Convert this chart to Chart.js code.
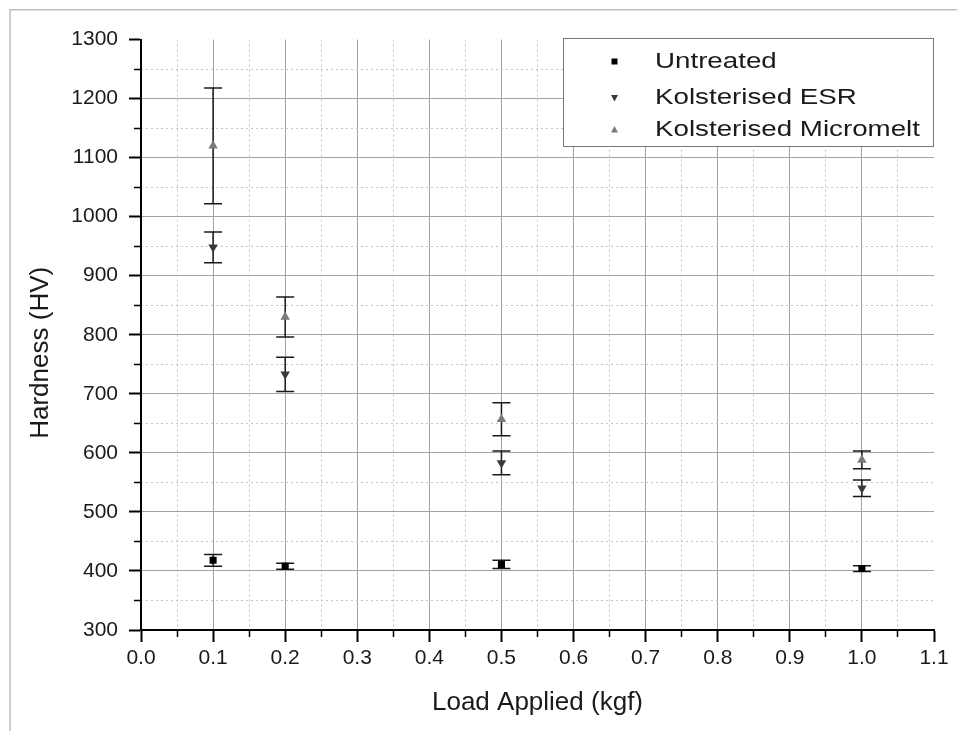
<!DOCTYPE html>
<html>
<head>
<meta charset="utf-8">
<script src="https://cdn.jsdelivr.net/npm/chart.js@4.4.1/dist/chart.umd.min.js"></script>
<style>
  html, body { margin: 0; padding: 0; background: #fff; }
  #wrap { width: 957px; height: 731px; position: relative; }
</style>
</head>
<body>
<div id="wrap"><canvas id="myChart"></canvas></div>
<script>
// load applied (kgf)
const loads = [0.1, 0.2, 0.5, 1.0];

// hardness values (HV) and error bar half-widths
const untreated = [418, 408, 411, 404];
const untreatedErr = [10, 5, 7, 5];
const esr = [948, 733, 583, 540];
const esrErr = [26, 29, 20, 14];
const micromelt = [1120, 830, 657, 588];
const micromeltErr = [98, 34, 28, 15];

const seriesNames = ['Untreated', 'Kolsterised ESR', 'Kolsterised Micromelt'];

const xRange = [0, 1.1];
const yRange = [300, 1300];

const FONT = 'Liberation Sans, Arial, Helvetica, sans-serif';

function pts(values) {
	return loads.map((x, i) => ({x: x, y: values[i]}));
}

function onStep(v, step) {
	return Math.abs(v / step - Math.round(v / step)) < 1e-6;
}

// light outer frame of the picture
const frame = {
	id: 'frame',
	beforeDraw(chart) {
		const ctx = chart.ctx;
		ctx.save();
		ctx.fillStyle = '#fff';
		ctx.fillRect(0, 0, chart.width, chart.height);
		ctx.strokeStyle = '#bdbdbd';
		ctx.lineWidth = 1.5;
		ctx.beginPath();
		ctx.moveTo(10, chart.height);
		ctx.lineTo(10, 9.75);
		ctx.lineTo(chart.width, 9.75);
		ctx.stroke();
		ctx.restore();
	}
};

// vertical error bars with caps
const errorBars = {
	id: 'errorBars',
	beforeDatasetsDraw(chart) {
		const ctx = chart.ctx;
		const xs = chart.scales.x, ys = chart.scales.y;
		ctx.save();
		ctx.strokeStyle = '#1a1a1a';
		ctx.lineWidth = 1.5;
		chart.data.datasets.forEach(ds => {
			ds.data.forEach((p, i) => {
				const px = xs.getPixelForValue(p.x);
				const top = ys.getPixelForValue(p.y + ds.errors[i]);
				const bot = ys.getPixelForValue(p.y - ds.errors[i]);
				ctx.beginPath();
				ctx.moveTo(px, top); ctx.lineTo(px, bot);
				ctx.moveTo(px - 9, top); ctx.lineTo(px + 9, top);
				ctx.moveTo(px - 9, bot); ctx.lineTo(px + 9, bot);
				ctx.stroke();
			});
		});
		ctx.restore();
	}
};

// boxed legend in the top right corner
const legendBox = {
	id: 'legendBox',
	afterDraw(chart) {
		const ctx = chart.ctx;
		const rows = [61.5, 98, 129.5];
		ctx.save();
		ctx.fillStyle = '#fff';
		ctx.fillRect(563.5, 38.5, 370, 108);
		ctx.strokeStyle = '#777';
		ctx.lineWidth = 1;
		ctx.strokeRect(563.5, 38.5, 370, 108);
		chart.data.datasets.forEach((ds, i) => {
			const cy = rows[i], cx = 614.5;
			ctx.fillStyle = ds.backgroundColor;
			ctx.beginPath();
			if (ds.pointStyle === 'rect') {
				ctx.rect(cx - 3, cy - 3, 6, 6);
			} else if (ds.pointRotation === 180) {
				ctx.moveTo(cx - 3.5, cy - 3); ctx.lineTo(cx + 3.5, cy - 3); ctx.lineTo(cx, cy + 3.5);
			} else {
				ctx.moveTo(cx - 3.5, cy + 3); ctx.lineTo(cx + 3.5, cy + 3); ctx.lineTo(cx, cy - 3.5);
			}
			ctx.closePath();
			ctx.fill();
			ctx.save();
			ctx.translate(655, cy);
			ctx.scale(1.26, 1);
			ctx.fillStyle = '#1a1a1a';
			ctx.font = '22px ' + FONT;
			ctx.textBaseline = 'middle';
			ctx.fillText(ds.label, 0, 0);
			ctx.restore();
		});
		ctx.restore();
	}
};

const ctx = document.getElementById('myChart').getContext('2d');

const myChart = new Chart(ctx, {
	type: 'scatter',
	data: {
		datasets: [
			{
				label: seriesNames[0],
				data: pts(untreated),
				errors: untreatedErr,
				pointStyle: 'rect',
				pointRadius: 5,
				backgroundColor: '#000',
				borderColor: '#000',
				borderWidth: 0
			},
			{
				label: seriesNames[1],
				data: pts(esr),
				errors: esrErr,
				pointStyle: 'triangle',
				pointRotation: 180,
				pointRadius: 5.5,
				backgroundColor: '#3a3a3a',
				borderColor: '#3a3a3a',
				borderWidth: 0
			},
			{
				label: seriesNames[2],
				data: pts(micromelt),
				errors: micromeltErr,
				pointStyle: 'triangle',
				pointRadius: 5.5,
				backgroundColor: '#7a7a7a',
				borderColor: '#7a7a7a',
				borderWidth: 0
			}
		]
	},
	options: {
		responsive: true,
		maintainAspectRatio: false,
		animation: false,
		layout: { padding: { top: 39.5, right: 23, bottom: 0, left: 0 } },
		plugins: {
			legend: { display: false },
			tooltip: { enabled: false }
		},
		scales: {
			x: {
				type: 'linear',
				position: 'bottom',
				min: xRange[0],
				max: xRange[1],
				afterFit: s => { s.height = 101; },
				ticks: {
					stepSize: 0.05,
					autoSkip: false,
					maxRotation: 0,
					padding: 4,
					color: '#1a1a1a',
					font: { family: FONT, size: 21 },
					callback: v => onStep(v, 0.1) ? v.toFixed(1) : ''
				},
				grid: {
					color: c => (onStep(c.tick.value, 0.1) && c.tick.value > 0.01 && c.tick.value < 1.09) ? '#a3a3a3' : 'rgba(0,0,0,0)',
					lineWidth: 1,
					tickColor: '#000',
					tickLength: 12,
					tickWidth: c => onStep(c.tick.value, 0.1) ? 2 : 1.5,
					tickBorderDash: c => onStep(c.tick.value, 0.1) ? [] : [6, 100]
				},
				border: { color: '#000', width: 2 },
				title: {
					display: true,
					text: 'Load Applied (kgf)',
					color: '#1a1a1a',
					font: { family: FONT, size: 26 },
					padding: { top: 0, bottom: 13 }
				}
			},
			xMinor: {
				type: 'linear',
				position: 'bottom',
				min: xRange[0],
				max: xRange[1],
				afterFit: s => { s.height = 0; },
				ticks: { display: false, stepSize: 0.05, autoSkip: false },
				grid: {
					drawTicks: false,
					color: c => onStep(c.tick.value, 0.1) ? 'rgba(0,0,0,0)' : '#c4c4c4',
					lineWidth: 1
				},
				border: { display: false, dash: [2, 3] }
			},
			y: {
				type: 'linear',
				position: 'left',
				min: yRange[0],
				max: yRange[1],
				afterFit: s => { s.width = 141; },
				ticks: {
					stepSize: 50,
					autoSkip: false,
					padding: 11,
					color: '#1a1a1a',
					font: { family: FONT, size: 21 },
					callback: v => onStep(v, 100) ? String(v) : ''
				},
				grid: {
					color: c => (onStep(c.tick.value, 100) && c.tick.value > 300 && c.tick.value < 1300) ? '#a3a3a3' : 'rgba(0,0,0,0)',
					lineWidth: 1,
					tickColor: '#000',
					tickLength: 12,
					tickWidth: c => onStep(c.tick.value, 100) ? 2 : 1.5,
					tickBorderDash: c => onStep(c.tick.value, 100) ? [] : [0, 5, 6, 100]
				},
				border: { color: '#000', width: 2 },
				title: {
					display: true,
					text: 'Hardness (HV)\u00a0\u00a0\u00a0\u00a0\u00a0',
					color: '#1a1a1a',
					font: { family: FONT, size: 26 },
					padding: { top: 25, bottom: 0 }
				}
			},
			yMinor: {
				type: 'linear',
				position: 'left',
				min: yRange[0],
				max: yRange[1],
				afterFit: s => { s.width = 0; },
				ticks: { display: false, stepSize: 50, autoSkip: false },
				grid: {
					drawTicks: false,
					color: c => onStep(c.tick.value, 100) ? 'rgba(0,0,0,0)' : '#c4c4c4',
					lineWidth: 1
				},
				border: { display: false, dash: [2, 3] }
			}
		}
	},
	plugins: [frame, errorBars, legendBox]
});
</script>
</body>
</html>
